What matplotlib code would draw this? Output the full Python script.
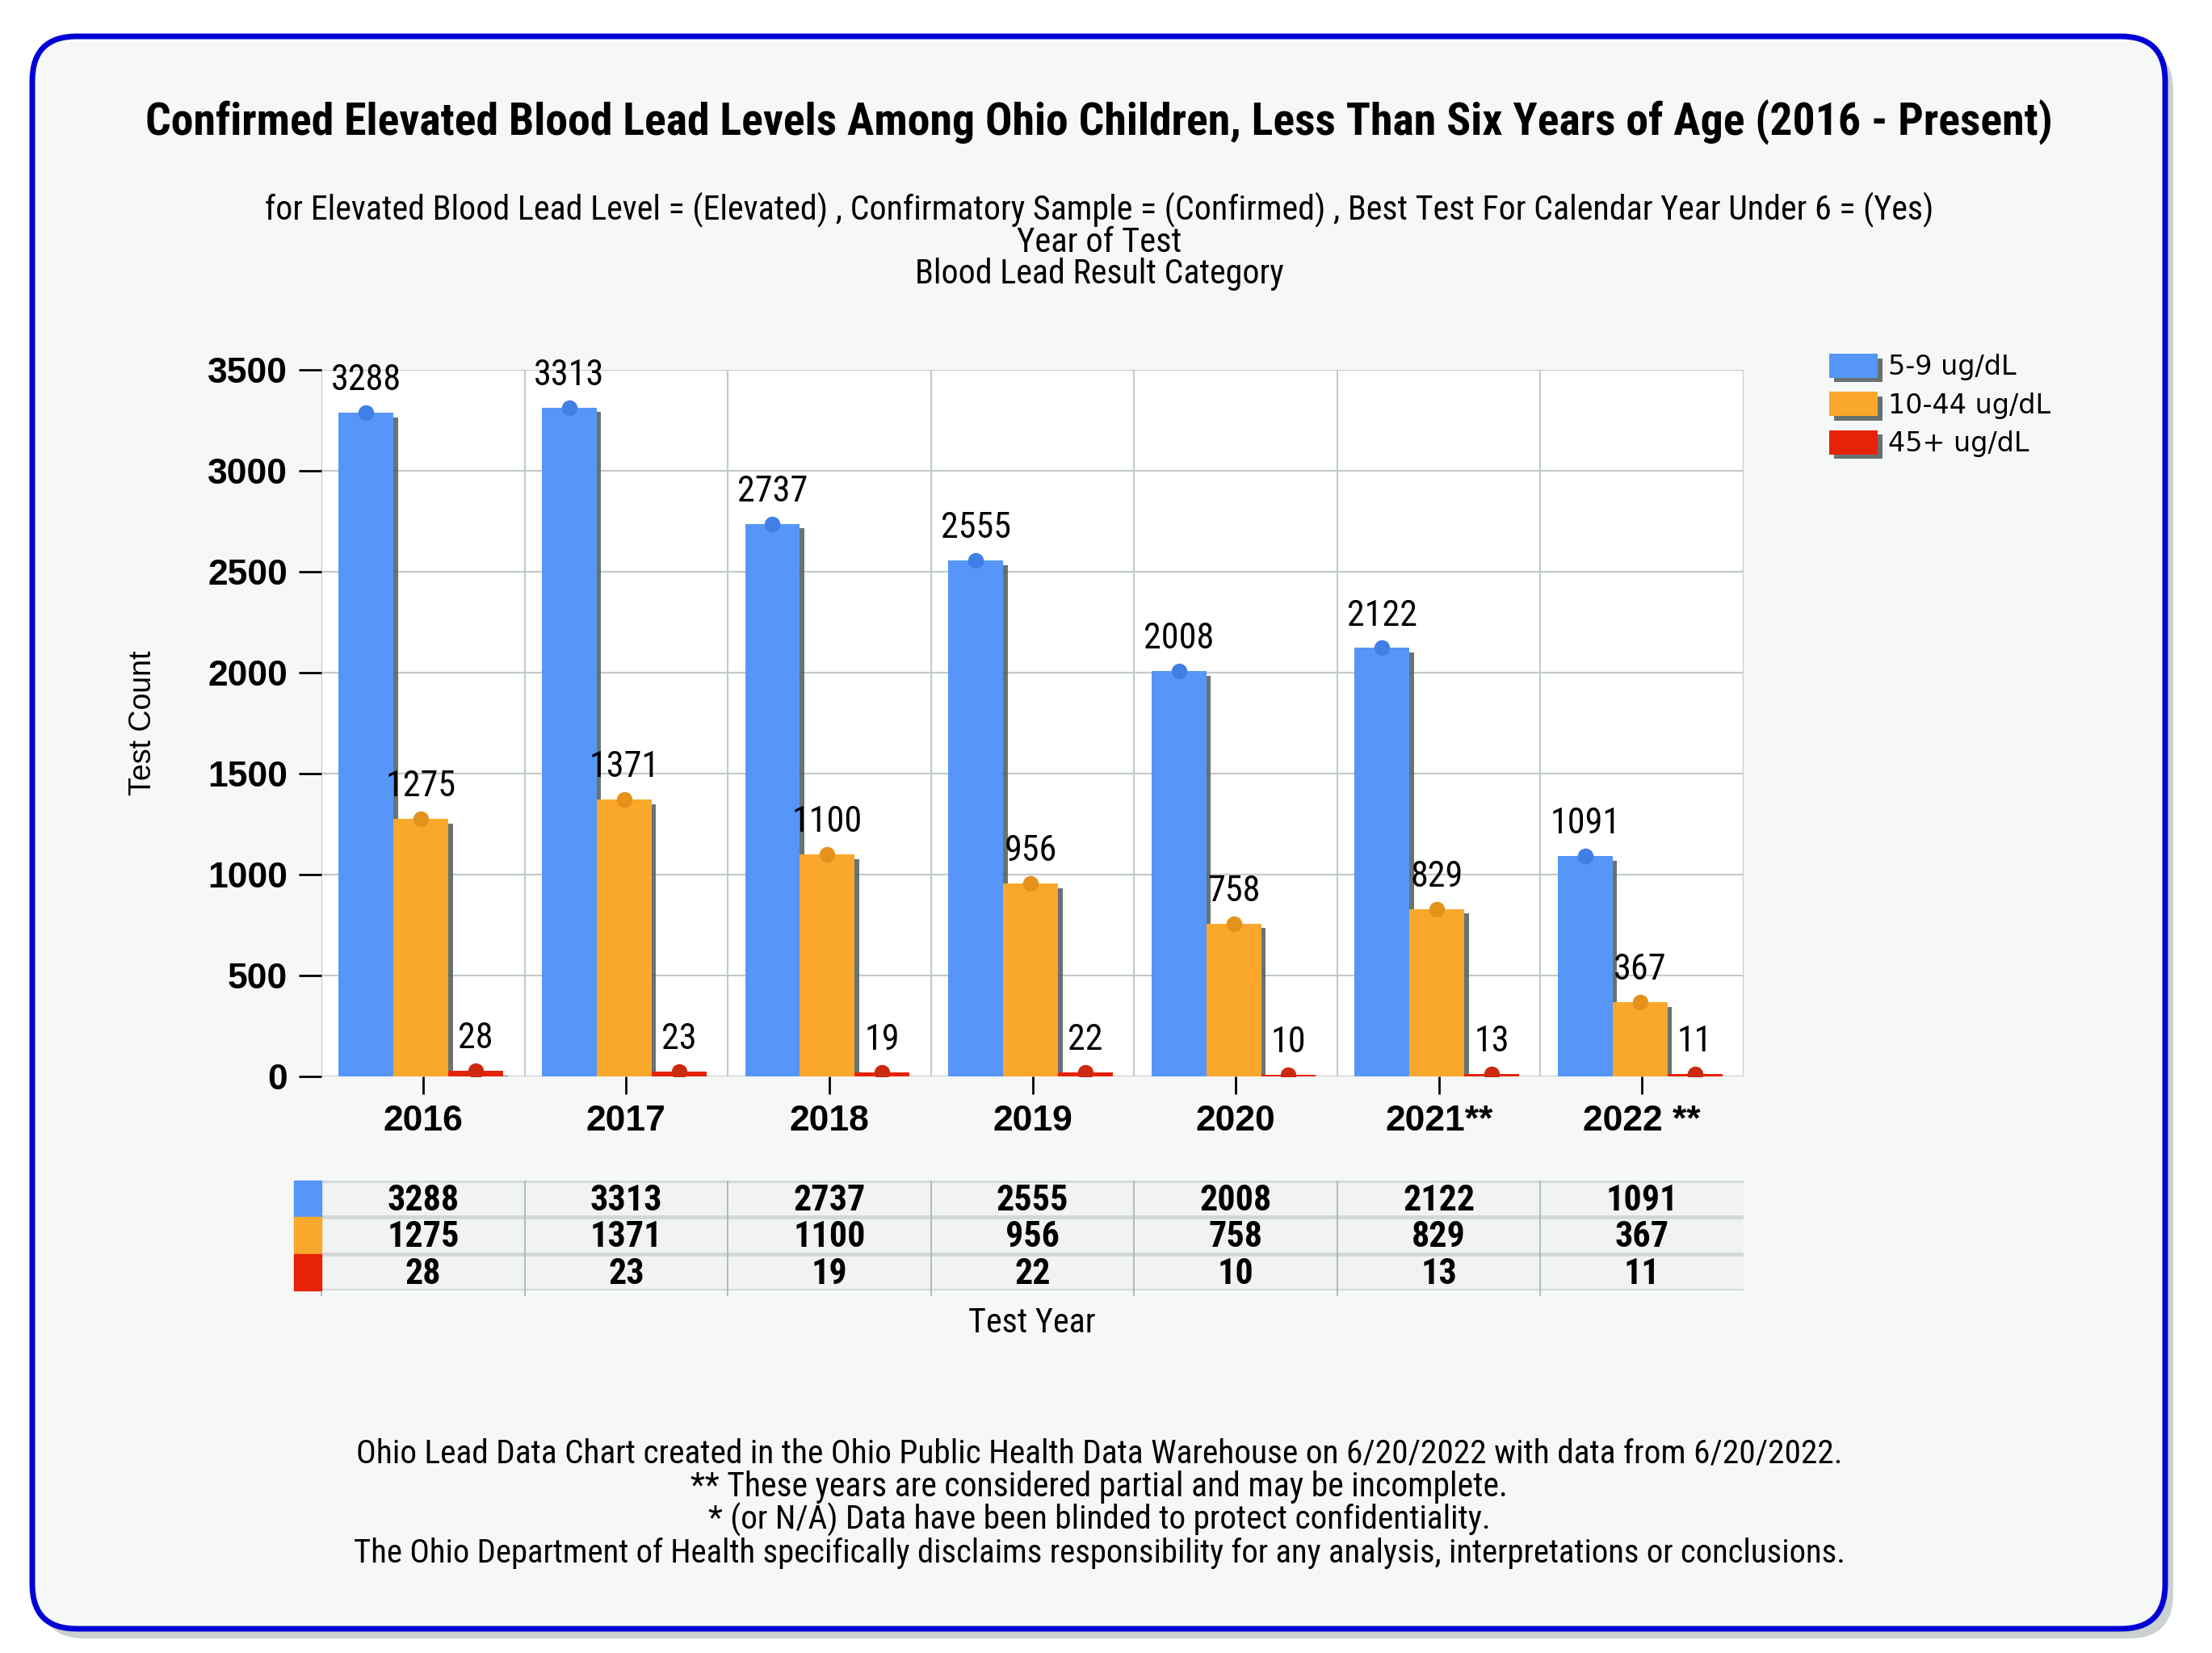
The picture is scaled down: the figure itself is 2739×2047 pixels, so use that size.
import numpy as np
import matplotlib
matplotlib.use('Agg')
import matplotlib.pyplot as plt
import matplotlib.patheffects as pe
from matplotlib.patches import FancyBboxPatch, Rectangle
from matplotlib import font_manager as fm

years = ['2016', '2017', '2018', '2019', '2020', '2021**', '2022 **']
series_names = ['5-9 ug/dL', '10-44 ug/dL', '45+ ug/dL']
low_vals = [3288, 3313, 2737, 2555, 2008, 2122, 1091]
mid_vals = [1275, 1371, 1100, 956, 758, 829, 367]
high_vals = [28, 23, 19, 22, 10, 13, 11]
colors = ['#5596F8', '#FAA82C', '#E62208']
marker_colors = ['#3F7FE6', '#E5921C', '#CC2A10']
yticks = [0, 500, 1000, 1500, 2000, 2500, 3000, 3500]

title = 'Confirmed Elevated Blood Lead Levels Among Ohio Children, Less Than Six Years of Age (2016 - Present)'
subtitle = ['for Elevated Blood Lead Level = (Elevated) , Confirmatory Sample = (Confirmed) , '
            'Best Test For Calendar Year Under 6 = (Yes)',
            'Year of Test', 'Blood Lead Result Category']
footer = ['Ohio Lead Data Chart created in the Ohio Public Health Data Warehouse on 6/20/2022 with data from 6/20/2022.',
          '** These years are considered partial and may be incomplete.',
          '* (or N/A) Data have been blinded to protect confidentiality.',
          'The Ohio Department of Health specifically disclaims responsibility for any analysis, interpretations or conclusions.']

# pick a condensed face if one is around, the original uses a narrow Arial
names = {f.name for f in fm.fontManager.ttflist}
NARROW = 'Liberation Sans'
for cand in ['Liberation Sans Narrow', 'Arial Narrow', 'Roboto Condensed', 'PT Sans Narrow',
             'Archivo Narrow', 'Asap Condensed', 'Barlow Semi Condensed']:
    if cand in names:
        NARROW = cand
        break
WIDE = 'Liberation Sans'

W, H = 2739, 2047
fig = plt.figure(figsize=(W / 100, H / 100), dpi=100)
fig.patch.set_facecolor('white')
renderer = fig.canvas.get_renderer()


def fit(t, target):
    # shrink/grow a text so it spans the same width as in the original
    w = t.get_window_extent(renderer).width
    t.set_fontsize(t.get_fontsize() * target / w)
    return target / w


# background panel in pixel coordinates
bg = fig.add_axes([0, 0, 1, 1])
bg.set_xlim(0, W)
bg.set_ylim(H, 0)
bg.axis('off')
bg.add_patch(FancyBboxPatch((50, 57), 2641, 1972, boxstyle='round,pad=0,rounding_size=55',
                            facecolor='#8C9898', edgecolor='none', alpha=0.45))
bg.add_patch(FancyBboxPatch((40, 45), 2641, 1972, boxstyle='round,pad=0,rounding_size=55',
                            facecolor='#F6F8F8', edgecolor='#0000D6', lw=5))

t = bg.text(1361, 152, title, ha='center', va='center', fontsize=37, fontweight='bold', family=NARROW)
fit(t, 2364)
sub_w = [2067, 204, 457]
scale = 1.0
for i, line in enumerate(subtitle):
    t = bg.text(1361, 260 + 40 * i, line, ha='center', va='center', fontsize=30, family=NARROW)
    s = fit(t, sub_w[i])
    if i == 0:
        scale = s
foot_w = [1840, 1010, 970, 1846]
for i, line in enumerate(footer):
    t = bg.text(1361, 1800 + 41 * i, line, ha='center', va='center', fontsize=30, family=NARROW)
    fit(t, foot_w[i])
t = bg.text(1278, 1639, 'Test Year', ha='center', va='center', fontsize=30, family=NARROW)
fit(t, 158)

label_size = min(30 * scale * 1.05, 32)

# main chart
ax = fig.add_axes([398 / W, 1 - 1333 / H, (2159 - 398) / W, (1333 - 458) / H])
ax.set_facecolor('white')
x = np.arange(len(years))
width = 0.27
offsets = [-0.28, -0.01, 0.26]
shadow = [pe.SimplePatchShadow(offset=(4, -4), shadow_rgbFace='#4E5A5A', alpha=0.85), pe.Normal()]

all_vals = [low_vals, mid_vals, high_vals]
for k, vals in enumerate(all_vals):
    xs = x + offsets[k]
    ax.bar(xs, vals, width, color=colors[k], label=series_names[k], path_effects=shadow, zorder=2)
    ax.plot(xs, vals, 'o', ms=13, color=marker_colors[k], zorder=3)
    for xi, v in zip(xs, vals):
        ax.annotate(str(v), (xi, v), xytext=(0, 20), textcoords='offset points',
                    ha='center', va='baseline', fontsize=label_size, family=NARROW, zorder=4)

ax.set_xlim(-0.5, len(years) - 0.5)
ax.set_ylim(0, 3500)
ax.set_yticks(yticks)
ax.set_yticklabels([str(t) for t in yticks], fontsize=32, fontweight='bold', family=WIDE)
ax.set_xticks(x)
ax.set_xticklabels(years, fontsize=32, fontweight='bold', family=WIDE)
ax.set_xticks(np.arange(-0.5, len(years), 0.5), minor=True)
ax.tick_params(axis='y', length=20, width=2, pad=10)
ax.tick_params(axis='x', which='major', length=16, width=2, pad=9)
ax.tick_params(axis='x', which='minor', length=0)
ax.grid(axis='y', which='major', color='#C0CACA', lw=1.5)
ax.grid(axis='x', which='minor', color='#C0CACA', lw=1.5)
ax.set_axisbelow(True)
for s in ax.spines.values():
    s.set_visible(False)
ax.set_ylabel('Test Count', fontsize=27, family=WIDE, labelpad=45)

ax.legend(loc='upper left', bbox_to_anchor=(2265 / W, 1 - 438 / H), bbox_transform=fig.transFigure,
          frameon=False, prop={'family': 'DejaVu Sans', 'size': 24}, borderpad=0, borderaxespad=0,
          handlelength=1.8, handleheight=1.0, handletextpad=0.4, labelspacing=0.42)

# data table under the chart
tax = fig.add_axes([398 / W, 1 - 1598 / H, (2159 - 398) / W, (1598 - 1462) / H], sharex=ax)
tax.set_ylim(3, 0)
tax.axis('off')
tax.axhspan(0, 3, color='#F1F3F3', zorder=0)
for r in range(4):
    tax.axhline(r, color='#D2D8D8', lw=3.5, zorder=1)
tax.vlines(np.arange(-0.5, len(years) - 1, 1), 0, 3.15, color='#A8B0B0', lw=1.2, clip_on=False, zorder=1)
for r, vals in enumerate(all_vals):
    tax.add_patch(Rectangle((-0.635, r), 0.135, 1, color=colors[r], clip_on=False, zorder=2))
    for i, v in enumerate(vals):
        tax.text(x[i], r + 0.55, str(v), ha='center', va='center', fontsize=label_size,
                 fontweight='bold', family=NARROW, zorder=3)

fig.savefig('out.png', dpi=100)
